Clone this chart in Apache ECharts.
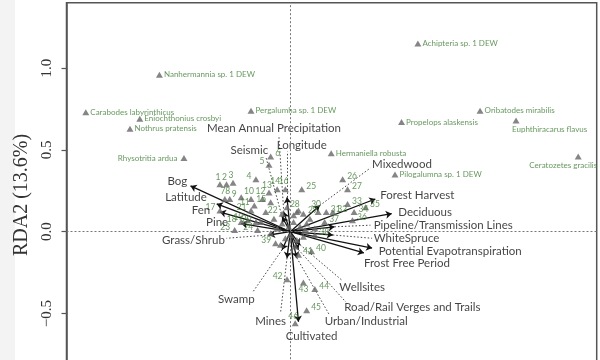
<!DOCTYPE html>
<html><head><meta charset="utf-8">
<script src="https://cdn.jsdelivr.net/npm/echarts@6.0.0/dist/echarts.min.js"></script>
<style>html,body{margin:0;padding:0;background:#fff}#c{width:600px;height:360px}</style>
</head><body><div id="c"></div>
<script>
// ---- DATA ----
const speciesNames = ['Achipteria sp. 1 DEW','Nanhermannia sp. 1 DEW','Carabodes labyrinthicus','Eniochthonius crosbyi','Nothrus pratensis','Rhysotritia ardua','Pergalumha sp. 1 DEW','Propelops alaskensis','Oribatodes mirabilis','Euphthiracarus flavus','Ceratozetes gracilis','Hermaniella robusta','Pilogalumna sp. 1 DEW'];
const speciesX = [0.78,-0.80,-1.25,-0.92,-0.98,-0.65,-0.24,0.68,1.16,1.38,1.76,0.25,0.64];
const speciesY = [1.15,0.96,0.73,0.69,0.63,0.45,0.74,0.67,0.74,0.68,0.46,0.48,0.35];

const otherSpeciesX = [-0.15,-0.10,-0.05,0.02,0.06,0.10,-0.08,0.00,0.04,-0.03,0.08,0.12,-0.18,0.15,-0.12,0.02,-0.02,0.05,-0.06,0.03,0.09,-0.01];
const otherSpeciesY = [0.12,0.08,0.05,0.06,0.03,0.05,0.02,-0.02,-0.05,-0.04,-0.03,0.08,0.06,0.02,-0.01,0.10,0.15,0.13,-0.08,-0.09,0.01,0.03];

const siteIds = Array.from({length:46},(_, i)=>String(i+1));
const siteX = [-0.43,-0.39,-0.35,-0.21,-0.13,-0.12,-0.40,-0.37,-0.30,-0.24,-0.22,-0.17,-0.13,-0.08,-0.12,-0.03,-0.43,-0.30,-0.26,-0.21,-0.24,-0.05,-0.34,-0.20,0.07,0.32,0.35,0.04,0.08,0.17,0.22,0.26,0.35,0.39,0.46,0.38,0.21,0.15,-0.09,0.13,0.05,-0.02,0.08,0.15,0.10,0.03];
const siteY = [0.29,0.29,0.30,0.32,0.41,0.46,0.20,0.20,0.21,0.20,0.16,0.20,0.24,0.26,0.18,0.26,0.13,0.06,0.07,0.06,0.13,0.11,0.01,0.01,0.26,0.32,0.26,0.12,0.11,0.12,0.12,0.12,0.17,0.12,0.15,0.07,0.06,-0.02,-0.07,-0.12,-0.14,-0.29,-0.31,-0.35,-0.48,-0.56];

const envNames = ['Bog','Latitude','Fen','Pine','Grass/Shrub','Swamp','Mines','Cultivated','Urban/Industrial','Road/Rail Verges and Trails','Wellsites','Frost Free Period','Potential Evapotranspiration','WhiteSpruce','Pipeline/Transmission Lines','Deciduous','Forest Harvest','Mixedwood','Mean Annual Precipitation','Seismic','Longitude'];
const envX = [-0.61,-0.45,-0.43,-0.30,-0.13,-0.05,-0.02,0.05,0.04,0.05,0.06,0.45,0.50,0.26,0.27,0.62,0.52,0.18,-0.04,-0.05,-0.02];
const envY = [0.28,0.17,0.12,0.05,-0.02,-0.11,-0.16,-0.55,-0.16,-0.11,-0.08,-0.13,-0.10,-0.02,0.03,0.11,0.20,0.16,0.12,0.09,0.21];
const envLabelX = [-0.63,-0.51,-0.49,-0.38,-0.40,-0.33,-0.12,0.13,0.21,0.33,0.30,0.45,0.54,0.51,0.51,0.66,0.55,0.50,-0.10,-0.25,0.07];
const envLabelY = [0.31,0.21,0.13,0.06,-0.05,-0.41,-0.55,-0.64,-0.55,-0.46,-0.34,-0.19,-0.12,-0.04,0.04,0.12,0.22,0.41,0.63,0.50,0.53];
const envLeaderX = [null,null,null,null,-0.39,-0.23,-0.06,null,0.24,0.34,0.32,null,null,0.50,0.49,null,null,0.49,-0.07,-0.15,-0.02];
const envLeaderY = [null,null,null,null,-0.04,-0.37,-0.50,null,-0.51,-0.43,-0.30,null,null,-0.04,0.04,null,null,0.39,0.59,0.46,0.49];

const yTicks = [-0.5, 0.0, 0.5, 1.0];
const yAxisTitle = 'RDA2 (13.6%)';

// ---- LAYOUT / STYLE ----
const GREEN = '#3f7d35';
const TRI = '#666666';
const envAlign = ['right','right','right','right','right','center','center','center','left','left','left','left','left','left','left','left','left','left','center','center','center'];
const speciesLabelLayout = {
  'Rhysotritia ardua': {position:'left', distance:3},
  'Euphthiracarus flavus': {position:'bottom', align:'left', offset:[-4,-3]},
  'Ceratozetes gracilis': {position:'bottom', align:'right', offset:[19,-3]}
};
const siteLabelLayout = {'1':'top','2':'top','3':'top','7':'top','8':'top','10':'top','12':'top','13':'top','14':'top','16':'top','28':'top','30':'top','43':'bottom','46':'top','6':'right'};

const speciesData = speciesNames.map((n,i)=>{
  const l = speciesLabelLayout[n] || {position:'right', distance:1};
  return {name:n, value:[speciesX[i], speciesY[i]], label:Object.assign({}, l)};
});
const siteData = siteIds.map((n,i)=>{
  const pos = siteLabelLayout[n] || (siteX[i] < 0 ? 'left' : 'right');
  const off = pos==='top' ? [-2,1] : (pos==='bottom' ? [0,-2] : [0,-3]);
  return {name:n, value:[siteX[i], siteY[i]], label:{position:pos, offset:off}};
});
const otherData = otherSpeciesX.map((x,i)=>[x, otherSpeciesY[i]]);
const arrowData = envNames.map((n,i)=>({coords:[[0,0],[envX[i],envY[i]]]}));
const leaderData = [];
envNames.forEach((n,i)=>{ if (envLeaderX[i] !== null) leaderData.push({coords:[[envX[i],envY[i]],[envLeaderX[i],envLeaderY[i]]]}); });
const envLabelData = envNames.map((n,i)=>({name:n, value:[envLabelX[i], envLabelY[i]], label:{align:envAlign[i]}}));

const chart = echarts.init(document.getElementById('c'), null, {renderer:'canvas'});
chart.setOption({
  animation:false,
  backgroundColor:'#ffffff',
  graphic:[{type:'rect', left:0, top:0, shape:{width:15, height:360}, style:{fill:'#f3f3f3'}, z:-10}],
  grid:{left:66.5, top:2.66, width:530.2, height:384.5, show:true, borderColor:'#555', borderWidth:1.5,
    outerBoundsMode:'none', containLabel:false},
  xAxis:{type:'value', min:-1.368, max:1.873, show:false, splitLine:{show:false}},
  yAxis:{type:'value', min:-0.95, max:1.4,
    name:yAxisTitle, nameLocation:'middle', nameGap:27, nameRotate:90,
    nameTextStyle:{fontFamily:'Liberation Serif', fontSize:20, color:'#333'},
    axisLine:{show:true, onZero:false, lineStyle:{color:'#555', width:1.5}},
    axisTick:{show:true, length:5, customValues:yTicks, lineStyle:{color:'#555', width:1.2}},
    axisLabel:{customValues:yTicks, rotate:90, margin:12, fontFamily:'Liberation Serif', fontSize:15, color:'#333',
      formatter:v=>(v<0?'\u2212':'')+Math.abs(v).toFixed(1)},
    splitLine:{show:false}},
  series:[
    {type:'scatter', name:'other', data:otherData, symbol:'triangle', symbolSize:[7,6], itemStyle:{color:TRI}, silent:true,
      markLine:{silent:true, symbol:'none', label:{show:false}, lineStyle:{type:[2,2], color:'#777', width:1},
        data:[{yAxis:0},{xAxis:0}]}},
    {type:'scatter', name:'sites', data:siteData, symbol:'triangle', symbolSize:[7,6], itemStyle:{color:TRI},
      label:{show:true, formatter:'{b}', color:GREEN, fontFamily:'Lato', fontSize:8.5, distance:1}},
    {type:'scatter', name:'species', data:speciesData, symbol:'triangle', symbolSize:[7,6], itemStyle:{color:TRI},
      label:{show:true, formatter:'{b}', color:GREEN, fontFamily:'Lato', fontSize:8}},
    {type:'lines', name:'leaders', coordinateSystem:'cartesian2d', data:leaderData, symbol:'none',
      lineStyle:{type:[1.5,2], color:'#444', width:1, opacity:1}},
    {type:'lines', name:'arrows', coordinateSystem:'cartesian2d', data:arrowData, symbol:['none','arrow'], symbolSize:6,
      lineStyle:{color:'#111', width:1.3, opacity:1}},
    {type:'scatter', name:'env', data:envLabelData, symbolSize:0,
      label:{show:true, position:'inside', formatter:'{b}', color:'#111', fontFamily:'Lato', fontSize:11.5, verticalAlign:'middle'}}
  ]
});
</script></body></html>
